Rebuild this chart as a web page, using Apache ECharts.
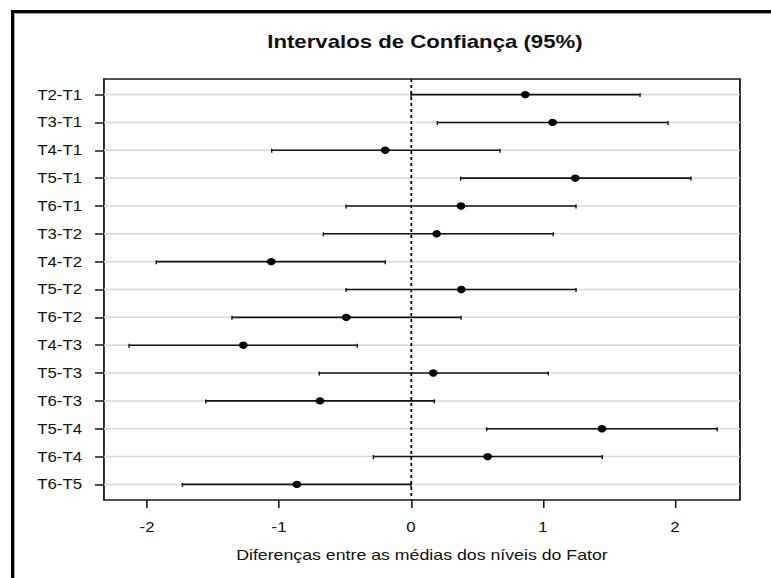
<!DOCTYPE html>
<html>
<head>
<meta charset="utf-8">
<script src="https://cdn.jsdelivr.net/npm/echarts@6/dist/echarts.min.js"></script>
<style>
  html, body { margin: 0; padding: 0; background: #fff; overflow: hidden; }
  #wrap { width: 771px; height: 578px; overflow: hidden; position: relative; }
  /* the chart is laid out narrower and stretched horizontally */
  #chart { width: 643px; height: 578px; transform: scaleX(1.19907); transform-origin: 0 0; }
</style>
</head>
<body>
<div id="wrap"><div id="chart"></div></div>
<script>
// Tukey-style pairwise comparisons: estimate with lower / upper 95% bounds
const categories = ['T2-T1', 'T3-T1', 'T4-T1', 'T5-T1', 'T6-T1', 'T3-T2', 'T4-T2', 'T5-T2',
                    'T6-T2', 'T4-T3', 'T5-T3', 'T6-T3', 'T5-T4', 'T6-T4', 'T6-T5'];
const estimates   = [0.866, 1.073, -0.195, 1.245, 0.379, 0.195, -1.058, 0.381,
                     -0.490, -1.270, 0.169, -0.689, 1.447, 0.581, -0.864];
const lowerBounds = [0.000, 0.200, -1.055, 0.376, -0.492, -0.664, -1.930, -0.492,
                     -1.356, -2.136, -0.695, -1.555, 0.573, -0.285, -1.732];
const upperBounds = [1.735, 1.947, 0.674, 2.121, 1.250, 1.078, -0.195, 1.250,
                     0.379, -0.407, 1.040, 0.177, 2.320, 1.449, 0.000];
const xTickValues = [-2, -1, 0, 1, 2];
const rowPositions = categories.map((_, i) => i + 1);

const FONT = "'Liberation Sans', Arial, sans-serif";
const INK = '#141414';

const chart = echarts.init(document.getElementById('chart'), null, { renderer: 'svg' });

const seriesData = categories.map((_, i) => [rowPositions[i], estimates[i], lowerBounds[i], upperBounds[i]]);

function renderInterval(params, api) {
  const row = api.value(0);
  const mid = api.coord([api.value(1), row]);
  const lo = api.coord([api.value(2), row]);
  const hi = api.coord([api.value(3), row]);
  const cs = params.coordSys;
  const y = mid[1];
  return {
    type: 'group',
    children: [
      { type: 'line', z2: 1, shape: { x1: cs.x, y1: y, x2: cs.x + cs.width, y2: y },
        style: { stroke: '#d8d8d8', lineWidth: 1.5 } },
      { type: 'line', z2: 5, shape: { x1: lo[0], y1: y, x2: hi[0], y2: y },
        style: { stroke: INK, lineWidth: 1.6 } },
      { type: 'line', z2: 5, shape: { x1: lo[0], y1: y - 1.5, x2: lo[0], y2: y + 2.5 },
        style: { stroke: INK, lineWidth: 1.2 } },
      { type: 'line', z2: 5, shape: { x1: hi[0], y1: y - 1.5, x2: hi[0], y2: y + 2.5 },
        style: { stroke: INK, lineWidth: 1.2 } },
      { type: 'circle', z2: 6, shape: { cx: mid[0], cy: y, r: 3.65 },
        style: { fill: '#000' } }
    ]
  };
}

const option = {
  animation: false,
  backgroundColor: '#fff',
  title: {
    text: 'Intervalos de Confiança (95%)',
    left: 354.4,
    top: 32,
    padding: 0,
    textAlign: 'center',
    textStyle: { fontFamily: FONT, fontWeight: 'bold', fontSize: 18.5, color: '#111' }
  },
  grid: {
    left: 86.7, right: 25.9, top: 79, bottom: 78,
    show: true, borderColor: '#1a1a1a', borderWidth: 1.5, backgroundColor: 'transparent'
  },
  xAxis: {
    type: 'value',
    min: -2.326,
    max: 2.492,
    name: 'Diferenças entre as médias dos níveis do Fator',
    nameLocation: 'middle',
    nameGap: 47,
    nameTextStyle: { fontFamily: FONT, fontSize: 14.8, color: '#111' },
    axisLine: { show: false, onZero: false },
    axisTick: { show: true, inside: false, length: 8, customValues: xTickValues,
                lineStyle: { color: INK, width: 1.3 } },
    axisLabel: { customValues: xTickValues, margin: 20, fontFamily: FONT, fontSize: 14, color: '#111',
                 formatter: v => String(v) },
    splitLine: { show: false }
  },
  yAxis: {
    type: 'value',
    inverse: true,
    min: 0.44,
    max: 15.56,
    axisLine: { show: false, onZero: false },
    axisTick: { show: true, inside: false, length: 7.5, customValues: rowPositions,
                lineStyle: { color: INK, width: 1.5 } },
    axisLabel: { customValues: rowPositions, margin: 18.3, fontFamily: FONT, fontSize: 14, color: '#111',
                 formatter: v => categories[Math.round(v) - 1] },
    splitLine: { show: false }
  },
  graphic: [
    // outer frame (top and left edges)
    { type: 'line', shape: { x1: 9.2, y1: 11.5, x2: 660, y2: 11.5 }, style: { stroke: '#000', lineWidth: 3 } },
    { type: 'line', shape: { x1: 10.4, y1: 10, x2: 10.4, y2: 600 }, style: { stroke: '#000', lineWidth: 2.5 } },
    { type: 'line', shape: { x1: 11.7, y1: 13.5, x2: 660, y2: 13.5 }, style: { stroke: '#9a9a9a', lineWidth: 1 } },
    { type: 'line', shape: { x1: 12.1, y1: 13, x2: 12.1, y2: 600 }, style: { stroke: '#9a9a9a', lineWidth: 0.8 } }
  ],
  series: [{
    type: 'custom',
    name: 'Intervalos',
    data: seriesData,
    encode: { x: [1, 2, 3], y: 0 },
    renderItem: renderInterval,
    markLine: {
      silent: true,
      symbol: ['none', 'none'],
      label: { show: false },
      lineStyle: { type: [3, 3], color: '#000', width: 1.5 },
      data: [{ xAxis: 0 }]
    }
  }]
};

chart.setOption(option);
</script>
</body>
</html>
